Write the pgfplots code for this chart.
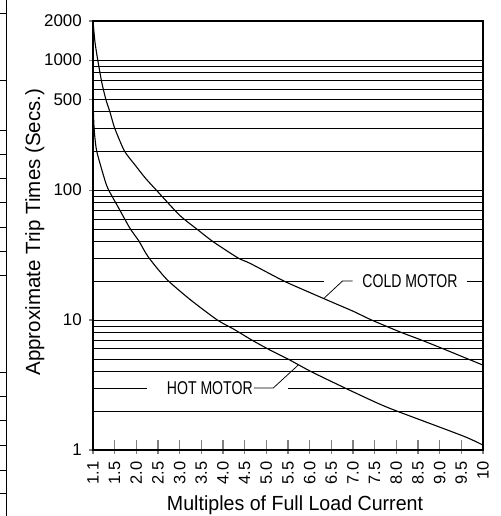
\documentclass[border=0pt]{standalone}
\usepackage{fontspec}
\setmainfont{Liberation Sans}
\newfontfamily\condfont[FakeStretch=0.76]{Liberation Sans}
\newfontfamily\xlabfont[FakeStretch=0.96]{Liberation Sans}
\usepackage{pgfplots}
\pgfplotsset{compat=1.18}

\pgfplotstableread{
x y
0 2000
0.09 1380
0.22 1000
0.40 680
0.59 500
0.78 400
1.00 300
1.45 200
1.94 156
2.41 124
2.92 100
4.0 64
4.8 50
5.55 40
6.7 30
7.25 27.3
8.8 20
10.0 16.3
11.0 13.8
12.0 11.7
12.86 10
14.17 8.1
15.17 7
16.17 6
17.2 5.1
18 4.5
}\coldtable

\pgfplotstableread{
x y
0 500
0.05 300
0.17 200
0.55 119
0.71 101
1.2 72
1.70 51
2.12 40.5
2.55 30.6
3.40 20.6
4.5 14.3
5.74 10.0
6.5 8.5
7.34 7.0
8.15 5.9
9.01 5.0
10.08 4.0
11.63 3.0
13.09 2.31
14.0 2.0
17.09 1.28
18 1.09
}\hottable

\begin{document}
\begin{tikzpicture}
\begin{axis}[
  scale only axis, width=390bp, height=429bp,
  at={(0,0)}, anchor=origin,
  xmin=0, xmax=18, ymode=log, ymin=1, ymax=2000,
  axis line style={line width=1.3bp},
  xtick={0,...,18},
  xticklabels={1.1,1.5,2.0,2.5,3.0,3.5,4.0,4.5,5.0,5.5,6.0,6.5,7.0,7.5,8.0,8.5,9.0,9.5,10},
  ytick={1,10,100,500,1000,2000},
  yticklabels={1,10,100,500,1000,2000},
  xtick pos=bottom, ytick pos=left,
  xtick align=inside, ytick align=outside,
  major tick length=4bp,
  minor tick length=0pt,
  xtick style={line width=1.1bp, yshift=-3.5bp, /pgfplots/major tick length=13.5bp},
  ytick style={line width=1.1bp},
  ymajorgrids=true,
  major grid style={black, line width=0.75bp},
  extra y ticks={2,4,5,6,7,8,9,30,40,50,60,70,80,90,200,300,400,600,700,800,900},
  extra y tick labels={},
  extra y tick style={grid=major, major tick length=0pt, ytick pos=left},
  /pgf/number format/assume math mode=true,
  xticklabel style={font=\fontsize{16.5}{18}\selectfont, rotate=90, anchor=east, inner sep=0pt, xshift=-11.5bp},
  yticklabel style={font=\fontsize{17}{19}\selectfont, anchor=east, inner sep=0pt, xshift=-7bp},
  xlabel={Multiples of Full Load Current},
  ylabel={Approximate Trip Times (Secs.)},
  xlabel style={font=\xlabfont\fontsize{20.5}{22}\selectfont, at={(axis description cs:0.518,-0.1415)}, anchor=base, inner sep=0pt},
  ylabel style={font=\fontsize{20.6}{22}\selectfont, at={(axis description cs:-0.1359,0.508)}, anchor=base, inner sep=0pt},
  clip=false,
]
\addplot[black, line width=1.1bp, smooth, tension=0.4] table[x=x,y=y]{\coldtable};
\addplot[black, line width=1.1bp, smooth, tension=0.4] table[x=x,y=y]{\hottable};
% partial grid lines with labels
\draw[black, line width=0.75bp] (axis cs:0,20) -- (axis cs:10.66,20);
\draw[black, line width=0.75bp] (axis cs:10.66,14.7) -- (axis cs:11.52,20) -- (axis cs:11.98,20);
\node[font=\condfont\fontsize{18.6}{20}\selectfont, inner sep=0pt] at (axis cs:14.63,20) {COLD MOTOR};
\draw[black, line width=0.75bp] (axis cs:17.24,20) -- (axis cs:18,20);
\draw[black, line width=0.75bp] (axis cs:0,3) -- (axis cs:2.51,3);
\node[font=\condfont\fontsize{18.6}{20}\selectfont, inner sep=0pt] at (axis cs:5.39,3) {HOT MOTOR};
\draw[black, line width=0.75bp] (axis cs:7.43,3) -- (axis cs:8.32,3) -- (axis cs:9.47,4.5);
\draw[black, line width=0.75bp] (axis cs:9.01,3) -- (axis cs:18,3);
\end{axis}
% cropped edge of neighbouring figure
\draw[black, line width=1.5bp] (-86.3bp,-66bp) -- (-86.3bp,450bp);
\foreach \yy in {13,80,130,154,178,202,227,251,275,372,396,420,445,470,493}
  \draw[black, line width=0.9bp] (-93bp,450bp-\yy bp) -- (-86.3bp,450bp-\yy bp);
\pgfresetboundingbox
\useasboundingbox (-93bp,-66bp) rectangle (408bp,450bp);
\end{tikzpicture}
\end{document}
